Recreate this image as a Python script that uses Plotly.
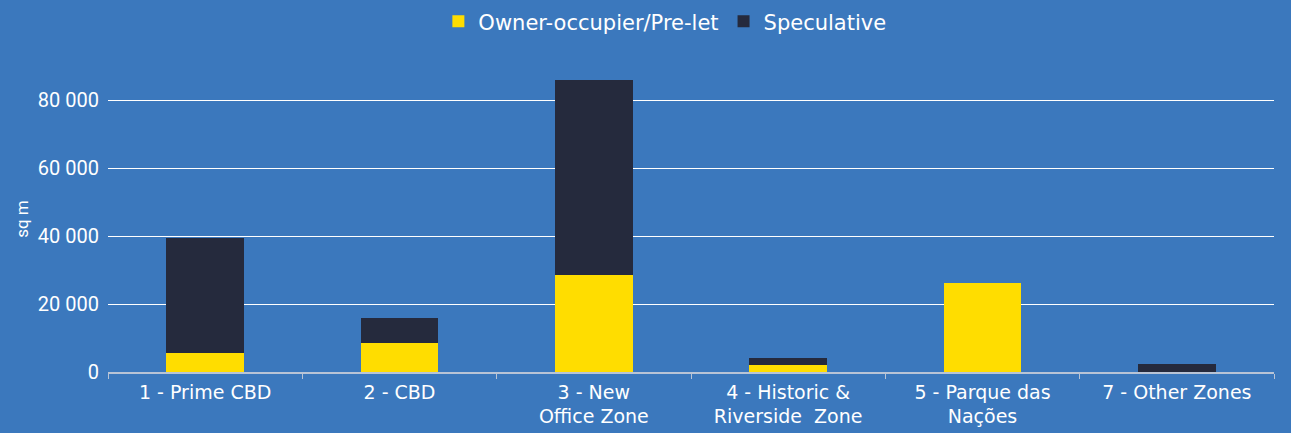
import plotly.graph_objects as go

categories = ["1 - Prime CBD", "2 - CBD", "3 - New<br>Office Zone",
              "4 - Historic &<br>Riverside  Zone", "5 - Parque das<br>Nações", "7 - Other Zones"]
owner_prelet = [5600, 8500, 28500, 2000, 26200, 0]
speculative = [33800, 7400, 57400, 2100, 0, 2400]
y_ticks = [0, 20000, 40000, 60000, 80000]

BG = "#3B78BD"
YELLOW = "#FFDD00"
NAVY = "#252A3D"
FONT = "DejaVu Sans"

fig = go.Figure()
fig.add_trace(go.Bar(x=categories, y=owner_prelet, name="Owner-occupier/Pre-let",
                     marker=dict(color=YELLOW, line=dict(width=0))))
fig.add_trace(go.Bar(x=categories, y=speculative, name="Speculative",
                     marker=dict(color=NAVY, line=dict(width=0))))

fig.update_layout(
    barmode="stack",
    bargap=0.6,
    width=1291, height=433,
    paper_bgcolor=BG, plot_bgcolor=BG,
    margin=dict(l=108, r=17, t=66, b=61, autoexpand=False),
    separators=". ",
    font=dict(family=FONT, color="white", size=17),
    showlegend=True,
    legend=dict(orientation="h", xref="container", yref="container",
                x=0.515, xanchor="center", y=0.95, yanchor="middle",
                font=dict(size=21, color="white", family=FONT), bgcolor="rgba(0,0,0,0)",
                traceorder="normal"),
    xaxis=dict(showline=True, linecolor="#B8C4D6", linewidth=1.5, automargin=False,
               ticks="outside", tickson="boundaries", ticklen=5, tickcolor="#B8C4D6",
               tickfont=dict(size=19, color="white", family=FONT), showgrid=False,
               ticklabelstandoff=2),
    yaxis=dict(range=[0, 90000], tickvals=y_ticks, tickformat=",d", automargin=False,
               showgrid=True, gridcolor="white", gridwidth=1,
               zeroline=False, showline=False, ticks="",
               tickfont=dict(size=20, color="white", family="Roboto"), ticklabelstandoff=8,
               title=dict(text="sq m", font=dict(size=17, color="white", family="Roboto"),
                          standoff=4)),
)

fig.write_html("out.html", config={"displayModeBar": False},
               post_script="document.body.style.margin='0';document.body.style.padding='0';document.body.style.overflow='hidden';")
